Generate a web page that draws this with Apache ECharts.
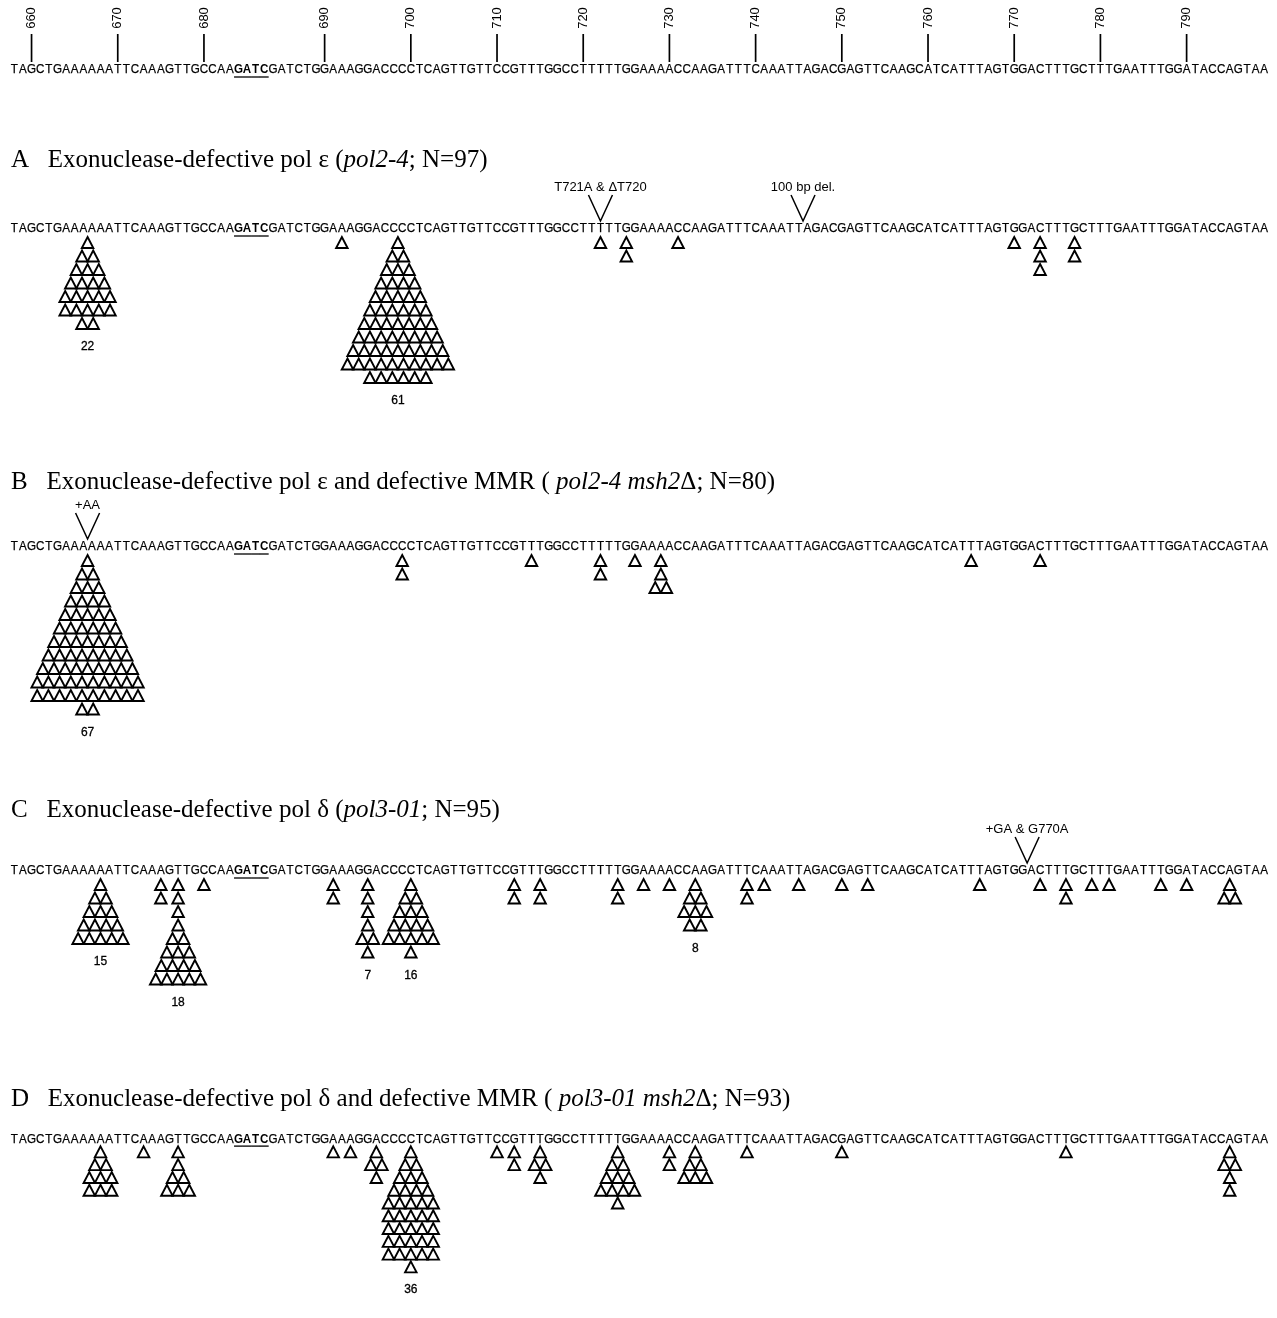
<!DOCTYPE html>
<html><head><meta charset="utf-8">
<script src="https://cdn.jsdelivr.net/npm/echarts@6/dist/echarts.min.js"></script>
<style>html,body{margin:0;padding:0;background:#fff}#c{width:1277px;height:1318px}</style>
</head><body><div id="c"></div>
<script>
// ---------- DATA ----------
const sequence = "TAGCTGAAAAAATTCAAAGTTGCCAAGATCGATCTGGAAAGGACCCCTCAGTTGTTCCGTTTGGCCTTTTTGGAAAACCAAGATTTCAAATTAGACGAGTTCAAGCATCATTTAGTGGACTTTGCTTTGAATTTGGATACCAGTAA";
const boldSites = [26, 27, 28, 29]; // GATC (underlined, bold)

const rulerLabels = ['660','670','680','690','700','710','720','730','740','750','760','770','780','790'];
const rulerSites  = [2, 12, 22, 36, 46, 56, 66, 76, 86, 96, 106, 116, 126, 136];

// Panel A
const aTitle = '{n|A   Exonuclease-defective pol ε (}{i|pol2-4}{n|; N=97)}';
const aSites = [8.5, 38, 44.5, 68, 71, 77, 116, 119, 123];
const aRows  = [[1,2,3,4,5,5,2],[1],[1,2,3,4,5,6,7,8,9,10,6],[1],[1,1],[1],[1],[1,1,1],[1,1]];
const aCountSites = [8.5, 44.5];
const aCountLabels = ['22', '61'];
const aNoteSites = [68, 91.5];
const aNoteLabels = ['T721A & \u0394T720', '100 bp del.'];

// Panel B
const bTitle = '{n|B   Exonuclease-defective pol ε and defective MMR ( }{i|pol2-4 msh2}{n|Δ; N=80)}';
const bSites = [8.5, 45, 60, 68, 72, 75, 111, 119];
const bRows  = [[1,2,3,4,5,6,7,8,9,10,10,2],[1,1],[1],[1,1],[1],[1,1,2],[1],[1]];
const bCountSites = [8.5];
const bCountLabels = ['67'];
const bNoteSites = [8.5];
const bNoteLabels = ['+AA'];

// Panel C
const cTitle = '{n|C   Exonuclease-defective pol δ (}{i|pol3-01}{n|; N=95)}';
const cSites = [10, 17, 19, 22, 37, 41, 46, 58, 61, 70, 73, 76, 79, 85, 87, 91, 96, 99, 112, 119, 122, 125, 127, 133, 136, 141];
const cRows  = [[1,2,3,4,5],[1,1],[1,1,1,1,2,3,4,5],[1],[1,1],[1,1,1,1,2,1],[1,2,3,4,5,1],[1,1],[1,1],[1,1],[1],[1],[1,2,3,2],[1,1],[1],[1],[1],[1],[1],[1],[1,1],[1],[1],[1],[1],[1,2]];
const cCountSites = [10, 19, 41, 46, 79];
const cCountLabels = ['15', '18', '7', '16', '8'];
const cNoteSites = [117.5];
const cNoteLabels = ['+GA & G770A'];

// Panel D
const dTitle = '{n|D   Exonuclease-defective pol δ and defective MMR ( }{i|pol3-01 msh2}{n|Δ; N=93)}';
const dSites = [10, 15, 19, 37, 39, 42, 46, 56, 58, 61, 70, 76, 79, 85, 96, 122, 141];
const dRows  = [[1,2,3,3],[1],[1,1,2,3],[1],[1],[1,2,1],[1,2,3,4,5,5,5,5,5,1],[1],[1,1],[1,2,1],[1,2,3,4,1],[1,1],[1,2,3],[1],[1],[1],[1,2,1,1]];
const dCountSites = [46];
const dCountLabels = ['36'];
const dNoteSites = [];
const dNoteLabels = [];

// ---------- LAYOUT / STYLE ----------
const ROW = 13.5;           // px per triangle row
const TRI_PITCH = 11.2;     // px between triangles in a row
const TRI_W = 11.5, TRI_H = 11;
const SANS = 'Liberation Sans, Arial, Helvetica, sans-serif';
const SERIF = 'Liberation Serif, Times New Roman, serif';
const LEFT = 10, WIDTH = 1258.5;
const TITLE_SIZE = 25;

const panels = [
  {seqY: 229, titleY: 143, title: aTitle, sites: aSites, rows: aRows, cs: aCountSites, cl: aCountLabels, ns: aNoteSites, nl: aNoteLabels},
  {seqY: 547, titleY: 465, title: bTitle, sites: bSites, rows: bRows, cs: bCountSites, cl: bCountLabels, ns: bNoteSites, nl: bNoteLabels},
  {seqY: 871, titleY: 793, title: cTitle, sites: cSites, rows: cRows, cs: cCountSites, cl: cCountLabels, ns: cNoteSites, nl: cNoteLabels},
  {seqY: 1142, titleY: 1082, title: dTitle, sites: dSites, rows: dRows, cs: dCountSites, cl: dCountLabels, ns: dNoteSites, nl: dNoteLabels}
];
const RULER_Y = 70;

const grids = [], xAxes = [], yAxes = [], series = [], titles = [];
function addGrid(seqY){
  const k = grids.length;
  grids.push({left: LEFT, width: WIDTH, top: seqY - 4*ROW, height: 18*ROW, containLabel: false});
  xAxes.push({gridIndex: k, type: 'value', min: -0.5, max: sequence.length - 0.5, show: false});
  yAxes.push({gridIndex: k, type: 'value', min: -4, max: 14, inverse: true, show: false});
  return k;
}

const seqData = sequence.split('').map((ch, i) => [i, 0, ch]);
function seqSeries(k){
  return {
    type: 'custom', xAxisIndex: k, yAxisIndex: k, silent: true, data: seqData,
    renderItem: function(params, api){
      const i = api.value(0);
      const p = api.coord([i, 0]);
      const bold = boldSites.indexOf(i) >= 0;
      const children = [{
        type: 'text', x: p[0], y: p[1], scaleX: 0.93,
        style: {text: sequence[i], x: 0, y: 0, align: 'center', verticalAlign: 'middle',
                font: (bold ? 'bold ' : '') + '12.5px ' + SANS, fill: '#000',
                stroke: '#000', lineWidth: bold ? 0 : 0.25}
      }];
      if (bold) {
        children.push({type: 'line', shape: {x1: p[0]-4.4, y1: p[1]+7, x2: p[0]+4.4, y2: p[1]+7},
          style: {stroke: '#000', lineWidth: 1.3}});
      }
      return {type: 'group', children: children};
    }
  };
}

// Ruler
const rk = addGrid(RULER_Y);
series.push(seqSeries(rk));
series.push({
  type: 'custom', xAxisIndex: rk, yAxisIndex: rk, silent: true,
  data: rulerSites.map((s, i) => [s, 0, rulerLabels[i]]),
  renderItem: function(params, api){
    const p = api.coord([api.value(0), 0]);
    const lab = rulerLabels[params.dataIndex];
    return {type: 'group', children: [
      {type: 'line', shape: {x1: p[0], y1: p[1]-36, x2: p[0], y2: p[1]-8}, style: {stroke: '#000', lineWidth: 1.7}},
      {type: 'text', x: p[0], y: p[1]-52, rotation: Math.PI/2,
       style: {text: lab, x: 0, y: 0, align: 'center', verticalAlign: 'middle', font: '13px ' + SANS, fill: '#000'}}
    ]};
  }
});

panels.forEach(function(pn){
  const k = addGrid(pn.seqY);
  titles.push({
    text: pn.title, left: 6, top: pn.titleY,
    textStyle: {fontFamily: SERIF, fontSize: TITLE_SIZE, fontWeight: 'normal', color: '#000',
      rich: {n: {fontFamily: SERIF, fontSize: TITLE_SIZE, color: '#000'},
             i: {fontFamily: SERIF, fontSize: TITLE_SIZE, fontStyle: 'italic', color: '#000'}}}
  });
  series.push(seqSeries(k));
  // triangles
  const tri = [];
  pn.sites.forEach(function(s, j){
    pn.rows[j].forEach(function(n, r){
      for (let t = 0; t < n; t++) tri.push([s, r + 1, t - (n - 1) / 2]);
    });
  });
  series.push({
    type: 'custom', xAxisIndex: k, yAxisIndex: k, silent: true, data: tri,
    renderItem: function(params, api){
      const p = api.coord([api.value(0), api.value(1)]);
      const cx = p[0] + api.value(2) * TRI_PITCH, cy = p[1];
      return {type: 'polygon',
        shape: {points: [[cx, cy - TRI_H/2], [cx + TRI_W/2, cy + TRI_H/2], [cx - TRI_W/2, cy + TRI_H/2]]},
        style: {fill: '#fff', stroke: '#000', lineWidth: 1.9, lineJoin: 'miter'}};
    }
  });
  // count labels
  const cnt = pn.cs.map(function(s, j){
    const idx = pn.sites.indexOf(s);
    return [s, pn.rows[idx].length + 1.75, pn.cl[j]];
  });
  series.push({
    type: 'custom', xAxisIndex: k, yAxisIndex: k, silent: true, data: cnt,
    renderItem: function(params, api){
      const p = api.coord([api.value(0), api.value(1)]);
      return {type: 'text', x: p[0], y: p[1],
        style: {text: pn.cl[params.dataIndex], x: 0, y: 0, align: 'center', verticalAlign: 'middle',
                font: '12px ' + SANS, fill: '#000', stroke: '#000', lineWidth: 0.3}};
    }
  });
  // annotations (V marks)
  if (pn.ns.length) {
    series.push({
      type: 'custom', xAxisIndex: k, yAxisIndex: k, silent: true,
      data: pn.ns.map(function(s, j){ return [s, 0, pn.nl[j]]; }),
      renderItem: function(params, api){
        const p = api.coord([api.value(0), 0]);
        return {type: 'group', children: [
          {type: 'polyline', shape: {points: [[p[0]-12, p[1]-34], [p[0], p[1]-8], [p[0]+12, p[1]-34]]},
           style: {stroke: '#000', lineWidth: 1.5, fill: null}},
          {type: 'text', x: p[0], y: p[1]-42,
           style: {text: pn.nl[params.dataIndex], x: 0, y: 0, align: 'center', verticalAlign: 'middle', font: '13px ' + SANS, fill: '#000'}}
        ]};
      }
    });
  }
});

const chart = echarts.init(document.getElementById('c'), null, {renderer: 'canvas'});
chart.setOption({
  backgroundColor: '#fff',
  animation: false,
  title: titles,
  grid: grids, xAxis: xAxes, yAxis: yAxes,
  series: series
});
</script>
</body></html>
